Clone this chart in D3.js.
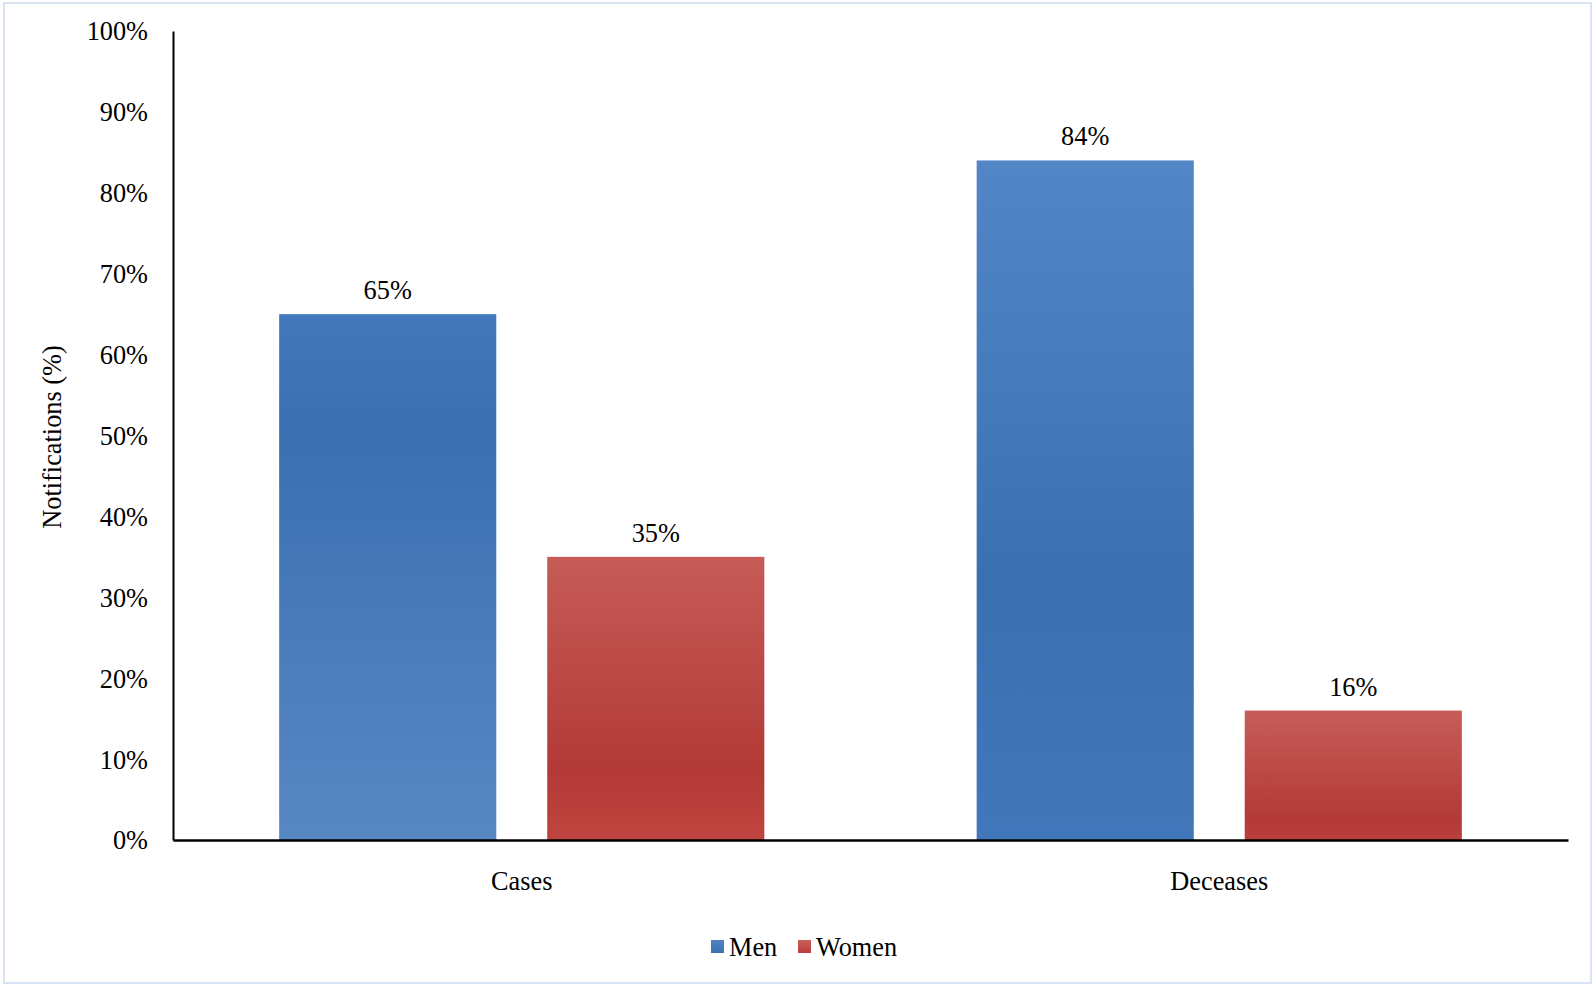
<!DOCTYPE html>
<html>
<head>
<meta charset="utf-8">
<script src="https://cdn.jsdelivr.net/npm/d3@7/dist/d3.min.js"></script>
<style>
  html, body { margin: 0; padding: 0; background: #fff; }
  svg { display: block; }
  text { font-family: "Liberation Serif", "Times New Roman", serif; fill: #000; }
</style>
</head>
<body>
<svg id="chart" width="1593" height="985"></svg>
<script>
// ---- data ----
const categories = ["Cases", "Deceases"];
const seriesNames = ["Men", "Women"];
const menValues = [0.65, 0.84];
const womenValues = [0.35, 0.16];
const yTicks = [0, 0.1, 0.2, 0.3, 0.4, 0.5, 0.6, 0.7, 0.8, 0.9, 1.0];
const yTitle = "Notifications (%)";

// ---- styles ----
const W = 1593, H = 985;
const FS = 26.3;
const plot = { left: 173, right: 1568, top: 31, bottom: 840 };
const gradStops = {
  "Men-Cases":      [[0, "#4279bc"], [0.22, "#3b6fb1"], [1, "#5888c4"]],
  "Men-Deceases":   [[0, "#5286c6"], [0.62, "#3a70b2"], [1, "#4278bb"]],
  "Women-Cases":    [[0, "#c65b57"], [0.75, "#b33a37"], [1, "#c0443f"]],
  "Women-Deceases": [[0, "#c75d59"], [0.82, "#b43a37"], [1, "#b93f3b"]],
  "Men-legend":     [[0, "#4d83c4"], [1, "#3c71b2"]],
  "Women-legend":   [[0, "#c9605b"], [1, "#b93f3b"]]
};

const svg = d3.select("#chart");
const defs = svg.append("defs");
Object.entries(gradStops).forEach(([id, stops]) => {
  const g = defs.append("linearGradient").attr("id", "g-" + id)
    .attr("x1", 0).attr("y1", 0).attr("x2", 0).attr("y2", 1);
  stops.forEach(([o, c]) => g.append("stop").attr("offset", o).attr("stop-color", c));
});

// outer border
svg.append("rect").attr("x", 4).attr("y", 3).attr("width", W - 6).attr("height", H - 5)
  .attr("fill", "#fff").attr("stroke", "#d8e4f3").attr("stroke-width", 2);

const y = d3.scaleLinear().domain([0, 1]).range([plot.bottom, plot.top]);
const x0 = d3.scaleBand().domain(categories).range([plot.left, plot.right]).padding(0);
const x1 = d3.scaleBand().domain(seriesNames).range([0, x0.bandwidth()])
  .paddingInner(0.19).paddingOuter(0.396);

const data = categories.map((c, i) => ({
  cat: c,
  vals: [{ s: "Men", v: menValues[i] }, { s: "Women", v: womenValues[i] }]
}));

// bars
const groups = svg.append("g").selectAll("g").data(data).join("g")
  .attr("transform", d => `translate(${x0(d.cat)},0)`);
groups.selectAll("rect").data(d => d.vals.map(e => ({ ...e, cat: d.cat }))).join("rect")
  .attr("x", d => x1(d.s))
  .attr("y", d => y(d.v))
  .attr("width", x1.bandwidth())
  .attr("height", d => y(0) - y(d.v))
  .attr("fill", d => `url(#g-${d.s}-${d.cat})`);
groups.selectAll("text.val").data(d => d.vals).join("text")
  .attr("class", "val")
  .attr("x", d => x1(d.s) + x1.bandwidth() / 2)
  .attr("y", d => y(d.v) - 15)
  .attr("text-anchor", "middle")
  .attr("font-size", FS)
  .text(d => Math.round(d.v * 100) + "%");

// y axis
const yAxis = d3.axisLeft(y).tickValues(yTicks).tickSize(0).tickPadding(25)
  .tickFormat(d => Math.round(d * 100) + "%");
const yg = svg.append("g").attr("transform", `translate(${plot.left},0)`).call(yAxis);
yg.select(".domain").attr("stroke", "#000").attr("stroke-width", 2);
yg.selectAll("text").attr("font-size", FS).attr("font-family", "Liberation Serif, serif").attr("dy", "0.34em");

// x axis
const xAxis = d3.axisBottom(x0).tickSize(0).tickPadding(31);
const xg = svg.append("g").attr("transform", `translate(0,${plot.bottom})`).call(xAxis);
xg.select(".domain").attr("stroke", "#000").attr("stroke-width", 2.5);
xg.selectAll("text").attr("font-size", FS).attr("font-family", "Liberation Serif, serif").attr("dy", "0.71em");

// y title
svg.append("text")
  .attr("transform", `translate(61,437) rotate(-90)`)
  .attr("text-anchor", "middle")
  .attr("font-size", FS)
  .text(yTitle);

// legend
const legendX = [711, 798];
const lg = svg.append("g").selectAll("g").data(seriesNames).join("g")
  .attr("transform", (d, i) => `translate(${legendX[i]},940)`);
lg.append("rect").attr("width", 13).attr("height", 13)
  .attr("fill", d => `url(#g-${d}-legend)`);
lg.append("text").attr("x", 18).attr("y", 16).attr("font-size", FS).text(d => d);
</script>
</body>
</html>
